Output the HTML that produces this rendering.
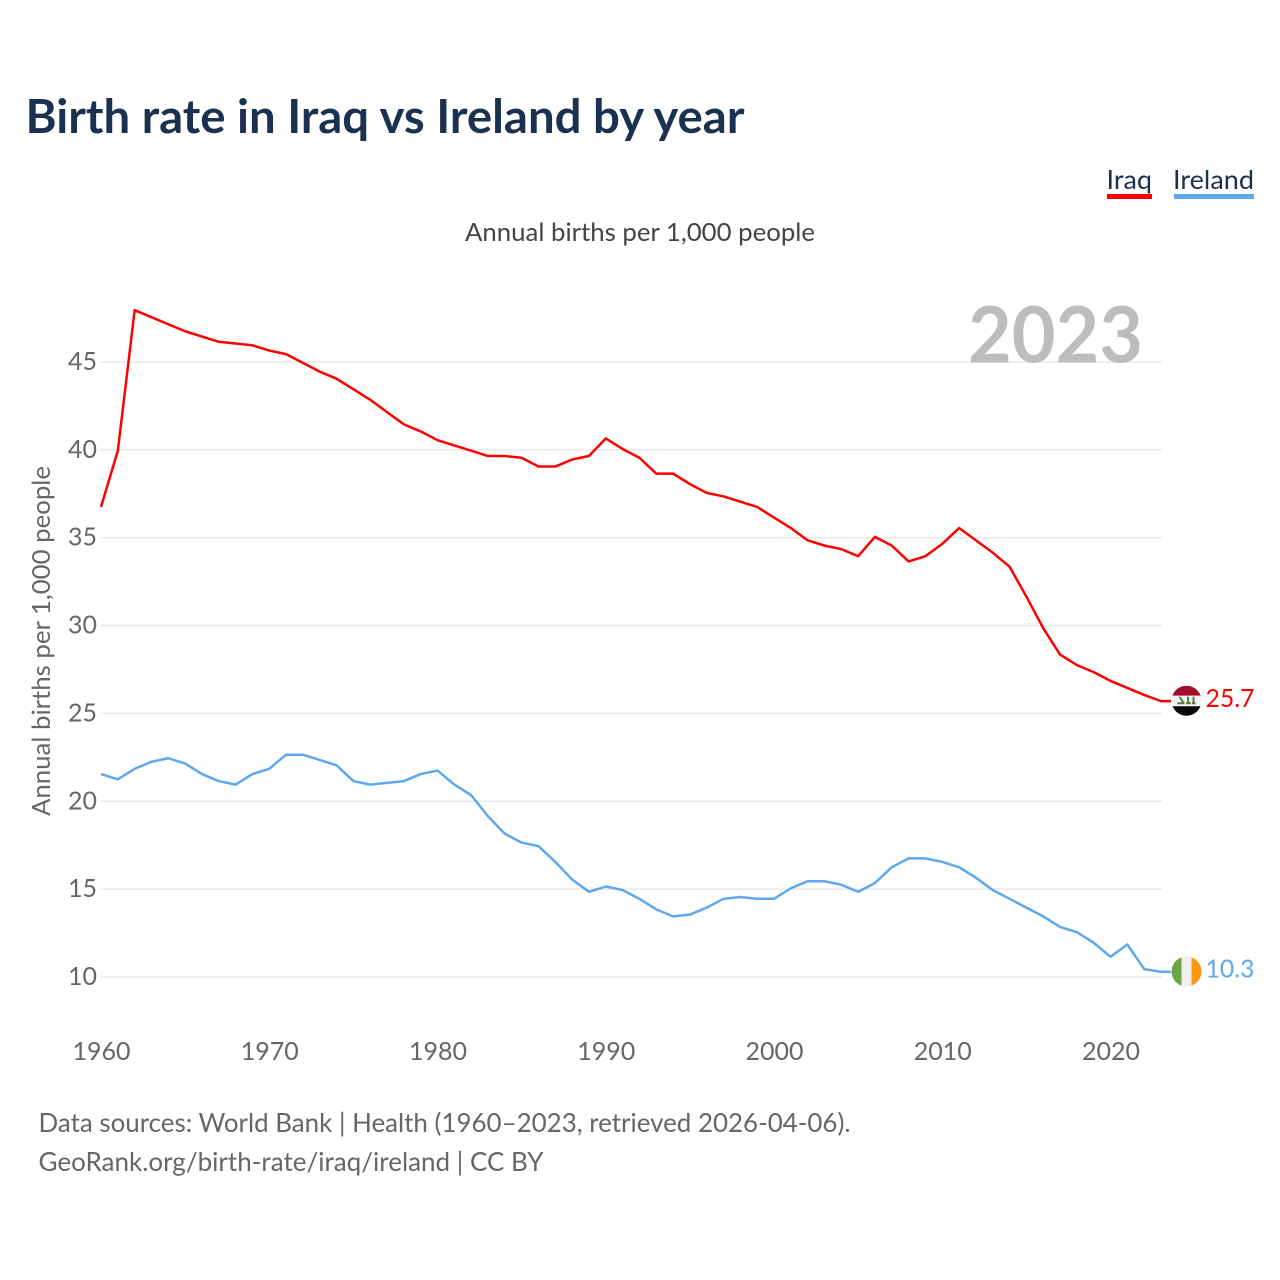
<!DOCTYPE html>
<html lang="en">
<head>
<meta charset="utf-8">
<title>Birth rate in Iraq vs Ireland by year</title>
<style>
html,body{margin:0;padding:0;background:#fff;width:1280px;height:1280px;overflow:hidden}
svg{display:block}
text{font-family:"Lato","Carlito","Liberation Sans",sans-serif}
</style>
</head>
<body>
<svg id="chart" width="1280" height="1280" viewBox="0 0 1280 1280" xmlns="http://www.w3.org/2000/svg">
  <defs>
    <clipPath id="flag-clip"><circle cx="0" cy="0" r="15"></circle></clipPath>
  </defs>
  <text x="25.5" y="133" font-size="47" font-weight="700" fill="#1a3150" textLength="719" lengthAdjust="spacingAndGlyphs">Birth rate in Iraq vs Ireland by year</text>
  <text x="1106.5" y="189" font-size="26.5" fill="#1a3150" textLength="45.5" lengthAdjust="spacingAndGlyphs">Iraq</text>
  <rect x="1107" y="194" width="45" height="5" fill="#ff0000"></rect>
  <text x="1173" y="189" font-size="26.5" fill="#1a3150" textLength="81" lengthAdjust="spacingAndGlyphs">Ireland</text>
  <rect x="1174" y="194" width="80" height="5" fill="#5fa8ee"></rect>
  <text x="465" y="241" font-size="25.5" fill="#444444" textLength="350" lengthAdjust="spacingAndGlyphs">Annual births per 1,000 people</text>
  <text transform="translate(50,816) rotate(-90)" x="0" y="0" font-size="25.5" fill="#666666" textLength="350" lengthAdjust="spacingAndGlyphs">Annual births per 1,000 people</text>
  <g id="grid"></g>
  <g id="y-labels"></g>
  <g id="x-labels"></g>
  <text id="year-label" x="968" y="362.5" font-size="78" font-weight="700" fill="#bdbdbd" textLength="175" lengthAdjust="spacingAndGlyphs"></text>
  <g id="series"></g>
  <g id="end-markers"></g>
  <text x="38.5" y="1132" font-size="26.5" fill="#666666" textLength="812" lengthAdjust="spacingAndGlyphs">Data sources: World Bank | Health (1960–2023, retrieved 2026-04-06).</text>
  <text x="38.5" y="1171" font-size="26.5" fill="#666666" textLength="505" lengthAdjust="spacingAndGlyphs">GeoRank.org/birth-rate/iraq/ireland | CC BY</text>
</svg>
<script>
const firstYear = 1960;
const yTicks = [10, 15, 20, 25, 30, 35, 40, 45];
const xTicks = [1960, 1970, 1980, 1990, 2000, 2010, 2020];
const iraqValues = [36.75,39.95,47.95,47.55,47.15,46.75,46.45,46.15,46.05,45.95,45.65,45.45,44.95,44.45,44.05,43.45,42.85,42.15,41.45,41.05,40.55,40.25,39.95,39.65,39.65,39.55,39.05,39.05,39.45,39.65,40.65,40.05,39.55,38.65,38.65,38.05,37.55,37.35,37.05,36.75,36.15,35.55,34.85,34.55,34.35,33.95,35.05,34.55,33.65,33.95,34.65,35.55,34.85,34.15,33.35,31.65,29.85,28.35,27.75,27.35,26.85,26.45,26.05,25.7];
const irelandValues = [21.55,21.25,21.85,22.25,22.45,22.15,21.55,21.15,20.95,21.55,21.85,22.65,22.65,22.35,22.05,21.15,20.95,21.05,21.15,21.55,21.75,20.95,20.35,19.15,18.15,17.65,17.45,16.55,15.55,14.85,15.15,14.95,14.45,13.85,13.45,13.55,13.95,14.45,14.55,14.45,14.45,15.05,15.45,15.45,15.25,14.85,15.35,16.25,16.75,16.75,16.55,16.25,15.65,14.95,14.45,13.95,13.45,12.85,12.55,11.95,11.15,11.85,10.45,10.3];

const NS = 'http://www.w3.org/2000/svg';
const xScale = function (year) { return 101 + (year - 1960) * (1060 / 63); };
const yScale = function (v) { return 977 - (v - 10) * (615 / 35); };
const make = function (tag, parent, attrs, content) {
  const el = document.createElementNS(NS, tag);
  Object.keys(attrs).forEach(function (k) { el.setAttribute(k, attrs[k]); });
  if (content !== undefined) el.textContent = content;
  parent.appendChild(el);
  return el;
};

const gridGroup = document.getElementById('grid');
const yLabelGroup = document.getElementById('y-labels');
yTicks.forEach(function (t) {
  const line = make('line', gridGroup, { x1: 101, x2: 1162, y1: yScale(t), y2: yScale(t), stroke: '#e9e9e9', 'stroke-width': 1.5 });
  
  
  const label = make('text', yLabelGroup, { x: 97, y: yScale(t) + 8, 'text-anchor': 'end', 'font-size': 25.5, fill: '#666666', textLength: 29, lengthAdjust: 'spacingAndGlyphs' }, String(t));
  
  
});

const xLabelGroup = document.getElementById('x-labels');
xTicks.forEach(function (t) {
  const label = make('text', xLabelGroup, { x: xScale(t) + 0.5, y: 1060, 'text-anchor': 'middle', 'font-size': 25.5, fill: '#666666', textLength: 58, lengthAdjust: 'spacingAndGlyphs' }, String(t));
  
  
});

const seriesGroup = document.getElementById('series');
const markerGroup = document.getElementById('end-markers');
const drawLine = function (values, color) {
  const pts = values.map(function (v, i) { return xScale(firstYear + i).toFixed(2) + ',' + yScale(v).toFixed(2); });
  const lastY = yScale(values[values.length - 1]);
  pts.push('1171,' + lastY.toFixed(2));
  return make('polyline', seriesGroup, { points: pts.join(' '), fill: 'none', stroke: color, 'stroke-width': 2.5, 'stroke-linejoin': 'round' });
};
const iraqLine = drawLine(iraqValues, '#ff0000');


const irelandLine = drawLine(irelandValues, '#5fa8ee');



const lastIraq = iraqValues[iraqValues.length - 1];
const lastIreland = irelandValues[irelandValues.length - 1];

const iraqFlag = make('g', markerGroup, { transform: 'translate(1186.5,' + (yScale(lastIraq) - 0.4).toFixed(2) + ')', 'clip-path': 'url(#flag-clip)' });


make('rect', iraqFlag, { x: -15, y: -15, width: 30, height: 10, fill: '#a50f2d' });
make('rect', iraqFlag, { x: -15, y: -5, width: 30, height: 10.5, fill: '#f4f4f4' });
make('rect', iraqFlag, { x: -15, y: 5.5, width: 30, height: 10, fill: '#0b0b0b' });
make('rect', iraqFlag, { x: -9, y: 1.5, width: 7, height: 2, fill: '#4f7f3a' });
make('polygon', iraqFlag, { points: '-8,-4 -6,-4 -2,1.5 -4.5,1.5', fill: '#4f7f3a' });
make('rect', iraqFlag, { x: -0.5, y: 1.5, width: 5, height: 2, fill: '#4f7f3a' });
make('rect', iraqFlag, { x: 0.5, y: -4, width: 2, height: 6, fill: '#4f7f3a' });
make('rect', iraqFlag, { x: 5.5, y: 1.5, width: 3.5, height: 2, fill: '#4f7f3a' });
make('rect', iraqFlag, { x: 6, y: -4, width: 2, height: 6, fill: '#4f7f3a' });

const irelandFlag = make('g', markerGroup, { transform: 'translate(1186.5,' + (yScale(lastIreland) - 0.2).toFixed(2) + ')', 'clip-path': 'url(#flag-clip)' });


make('rect', irelandFlag, { x: -15, y: -15, width: 10, height: 30, fill: '#6da544' });
make('rect', irelandFlag, { x: -5, y: -15, width: 10, height: 30, fill: '#eeeeee' });
make('rect', irelandFlag, { x: 5, y: -15, width: 10, height: 30, fill: '#ff9811' });

const iraqValueLabel = make('text', markerGroup, { x: 1205.5, y: yScale(lastIraq) + 6, 'font-size': 25.5, fill: '#ff0000', textLength: 49, lengthAdjust: 'spacingAndGlyphs' }, lastIraq.toFixed(1));


const irelandValueLabel = make('text', markerGroup, { x: 1205.5, y: yScale(lastIreland) + 6, 'font-size': 25.5, fill: '#5fa8ee', textLength: 49, lengthAdjust: 'spacingAndGlyphs' }, lastIreland.toFixed(1));



document.getElementById('year-label').textContent = String(firstYear + iraqValues.length - 1);
</script>
</body>
</html>
